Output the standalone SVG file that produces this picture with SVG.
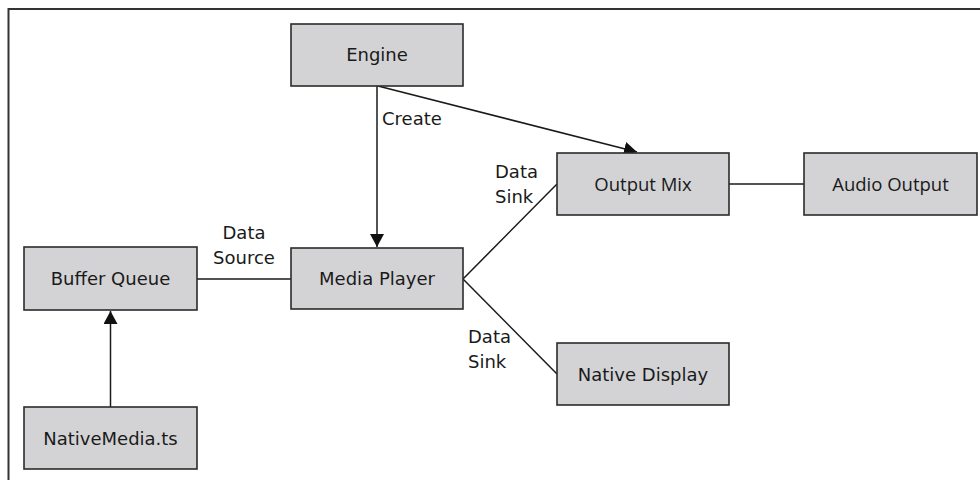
<svg xmlns="http://www.w3.org/2000/svg" width="980" height="480" viewBox="0 0 980 480">
<defs>
<style>
.box{fill:#d3d3d5;stroke:#2b2b2b;stroke-width:1.6}
.t{font-family:"DejaVu Sans","Liberation Sans",sans-serif;font-size:18px;fill:#1a1a1a;text-anchor:middle}
.t2{font-family:"Open Sans","Liberation Sans",sans-serif;font-size:18.5px;fill:#1a1a1a;text-anchor:middle}
.lbl{font-family:"DejaVu Sans","Liberation Sans",sans-serif;font-size:18px;fill:#1a1a1a}
.ln{stroke:#1a1a1a;stroke-width:1.5;fill:none}
</style>
<marker id="ah" markerUnits="userSpaceOnUse" markerWidth="14" markerHeight="14" viewBox="0 0 14 14" refX="13" refY="7" orient="auto">
<path d="M0,0 L13,7 L0,14 Z" fill="#111"/>
</marker>
</defs>
<rect width="980" height="480" fill="#fff"/>
<path d="M8.5,480 V9 H980" fill="none" stroke="#333" stroke-width="2"/>
<g id="connectors">
<line class="ln" x1="377" y1="86" x2="377" y2="247" marker-end="url(#ah)"/>
<line class="ln" x1="378" y1="86" x2="637" y2="152" marker-end="url(#ah)"/>
<line class="ln" x1="110.5" y1="407" x2="110.5" y2="311" marker-end="url(#ah)"/>
<line class="ln" x1="197" y1="279" x2="291" y2="279"/>
<line class="ln" x1="463" y1="279" x2="557" y2="184"/>
<line class="ln" x1="463" y1="279" x2="557" y2="374"/>
<line class="ln" x1="729" y1="184" x2="804" y2="184"/>
<text class="lbl" x="382" y="125">Create</text>
<text class="lbl" x="244" y="239" text-anchor="middle">Data</text>
<text class="lbl" x="244" y="264" text-anchor="middle">Source</text>
<text class="lbl" x="495" y="178">Data</text>
<text class="lbl" x="495" y="203">Sink</text>
<text class="lbl" x="468" y="343">Data</text>
<text class="lbl" x="468" y="368">Sink</text>
</g>
<g id="engine"><rect class="box" x="291" y="24" width="172" height="62"/><text class="t" x="377" y="61">Engine</text></g>
<g id="output-mix"><rect class="box" x="557" y="153" width="172" height="62"/><text class="t2" x="643" y="190.5">Output Mix</text></g>
<g id="audio-output"><rect class="box" x="804" y="153" width="173" height="62"/><text class="t2" x="890.5" y="190.5">Audio Output</text></g>
<g id="buffer-queue"><rect class="box" x="24" y="247" width="173" height="63"/><text class="t" x="110.5" y="285">Buffer Queue</text></g>
<g id="media-player"><rect class="box" x="291" y="248" width="172" height="61"/><text class="t" x="377" y="285">Media Player</text></g>
<g id="native-display"><rect class="box" x="557" y="343" width="172" height="62"/><text class="t" x="643" y="380.5">Native Display</text></g>
<g id="nativemedia"><rect class="box" x="24" y="407" width="173" height="62"/><text class="t" x="110.5" y="444.5">NativeMedia.ts</text></g>
</svg>
